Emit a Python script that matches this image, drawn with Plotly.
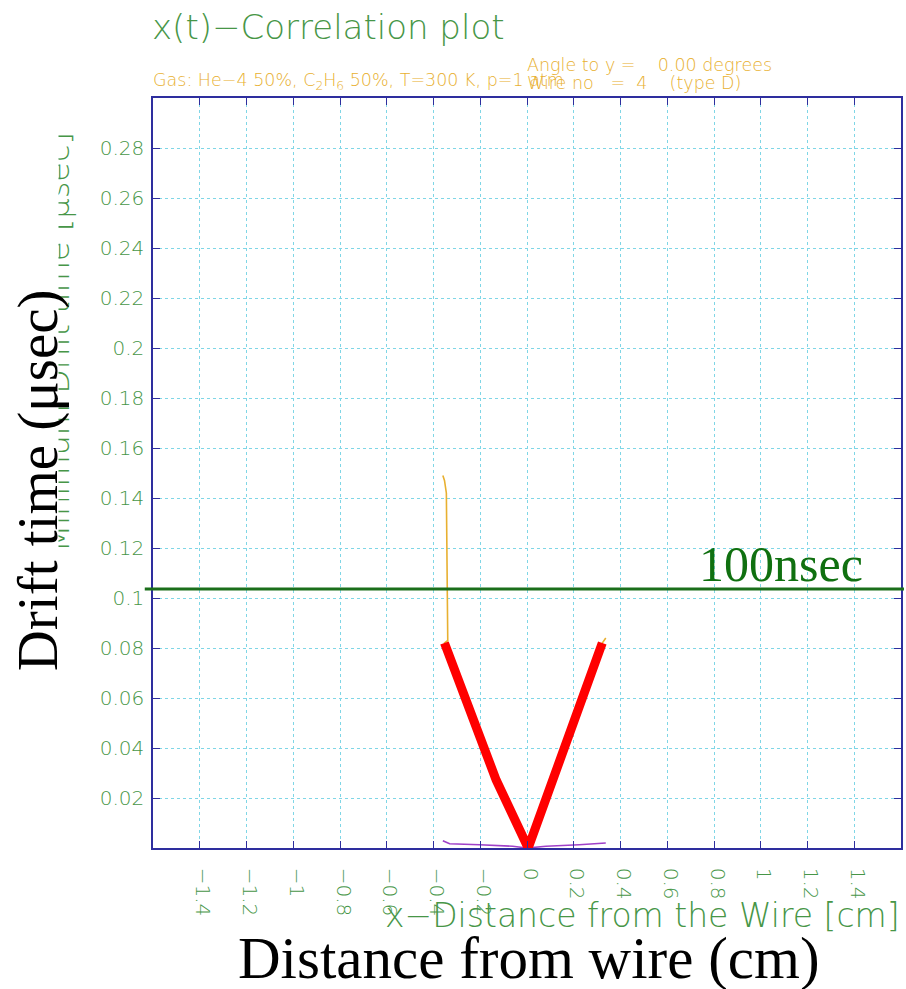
import plotly.graph_objects as go

# ---- data ----
x_ticks = [-1.4, -1.2, -1.0, -0.8, -0.6, -0.4, -0.2, 0.0, 0.2, 0.4, 0.6, 0.8, 1.0, 1.2, 1.4]
x_tick_labels = ["\u22121.4", "\u22121.2", "\u22121", "\u22120.8", "\u22120.6", "\u22120.4", "\u22120.2",
                 "0", "0.2", "0.4", "0.6", "0.8", "1", "1.2", "1.4"]
y_ticks = [0.02, 0.04, 0.06, 0.08, 0.1, 0.12, 0.14, 0.16, 0.18, 0.2, 0.22, 0.24, 0.26, 0.28]
y_tick_labels = ["0.02", "0.04", "0.06", "0.08", "0.1", "0.12", "0.14", "0.16", "0.18", "0.2",
                 "0.22", "0.24", "0.26", "0.28"]

# orange x(t) curve (Garfield output)
orange_x = [-0.36, -0.353, -0.345, -0.341, -0.339, -0.353, -0.203, -0.132, 0.005, 0.138, 0.223, 0.322, 0.337]
orange_t = [0.149, 0.147, 0.142, 0.102, 0.083, 0.082, 0.0446, 0.0272, 0.0, 0.0353, 0.0566, 0.082, 0.084]

# red highlighted V
red_x = [-0.353, -0.203, -0.132, 0.005, 0.138, 0.223, 0.322]
red_t = [0.082, 0.0446, 0.0272, 0.0, 0.0353, 0.0566, 0.082]

# purple curve near the axis
purple_x = [-0.36, -0.331, -0.203, -0.061, 0.0, 0.081, 0.223, 0.337]
purple_t = [0.0029, 0.0017, 0.0013, 0.0007, 0.0, 0.0007, 0.0013, 0.002]

threshold_t = 0.1036
threshold_label = "100nsec"

GREEN = "#479647"
ORANGE = "#e8b030"
FRAME = "#2e2e9e"
GRID = "#7fd6e6"
THIN = "DejaVu Sans"
W = 200

fig = go.Figure()
fig.add_trace(go.Scatter(x=orange_x, y=orange_t, mode="lines",
                         line=dict(color=ORANGE, width=1.6), cliponaxis=False, showlegend=False))
fig.add_trace(go.Scatter(x=purple_x, y=purple_t, mode="lines",
                         line=dict(color="#a040c8", width=1.6), cliponaxis=False, showlegend=False))
fig.add_trace(go.Scatter(x=red_x, y=red_t, mode="lines",
                         line=dict(color="#ff0000", width=9), cliponaxis=False, showlegend=False))

fig.add_shape(type="line", xref="paper", yref="y", x0=-0.011, x1=1.004,
              y0=threshold_t, y1=threshold_t, line=dict(color="#1a6e1a", width=3))

axis_common = dict(showline=True, linecolor=FRAME, linewidth=1.5, mirror="ticks",
                   ticks="inside", ticklen=7, tickcolor=FRAME, tickwidth=1.2,
                   showgrid=True, gridcolor=GRID, griddash="dot", gridwidth=1,
                   zeroline=False, tickfont=dict(family=THIN, size=20, color=GREEN, weight=W))

fig.update_xaxes(range=[-1.6, 1.6], tickmode="array", tickvals=x_ticks, ticktext=x_tick_labels,
                 tickangle=90, ticklabelstandoff=14, ticklabelshift=3, **axis_common)
fig.update_yaxes(range=[0, 0.3], tickmode="array", tickvals=y_ticks, ticktext=y_tick_labels,
                 ticklabelstandoff=3, **axis_common)

def px(x):
    return (x - 153) / 750.0

def py(y):
    return (848 - y) / 750.0

ann = [
    dict(text="x(t)\u2212Correlation plot", x=px(150), y=py(27), xanchor="left", yanchor="middle",
         font=dict(family=THIN, size=34, color=GREEN, weight=W)),
    dict(text="Gas: He\u22124 50%, C<sub>2</sub>H<sub>6</sub> 50%, T=300 K, p=1 atm", x=px(151), y=py(82),
         xanchor="left", yanchor="middle", font=dict(family=THIN, size=17.5, color=ORANGE, weight=W)),
    dict(text="Angle to y =    0.00 degrees", x=px(526), y=py(65), xanchor="left", yanchor="middle",
         font=dict(family=THIN, size=17.5, color=ORANGE, weight=W)),
    dict(text="Wire no   =  4    (type D)", x=px(526), y=py(83), xanchor="left", yanchor="middle",
         font=dict(family=THIN, size=17.5, color=ORANGE, weight=W)),
    dict(text="x\u2212Distance from the Wire [cm]", x=px(904), y=py(915), xanchor="right", yanchor="middle",
         font=dict(family=THIN, size=33, color=GREEN, weight=W)),
    dict(text="Minimum Drift time [\u03bcsec]", x=px(58), y=py(342), xanchor="center", yanchor="middle",
         textangle=-90, font=dict(family=THIN, size=32, color=GREEN, weight=W)),
    # white text box of the overlaid slide label, hiding part of the green title
    dict(text="&nbsp;", x=px(0), y=py(100), xanchor="left", yanchor="top", width=57, height=590,
         bgcolor="white", borderpad=0, font=dict(size=10, color="white")),
    dict(text="Drift time (\u03bcsec)", x=px(38), y=py(480), xanchor="center", yanchor="middle",
         textangle=-90, font=dict(family="Liberation Serif", size=57, color="black")),
    dict(text="Distance from wire (cm)", x=px(530), y=py(958), xanchor="center", yanchor="middle",
         font=dict(family="Liberation Serif", size=59, color="black")),
    dict(text=threshold_label, x=px(783), y=py(564), xanchor="center", yanchor="middle",
         font=dict(family="Liberation Serif", size=50, color="#107010")),
]
for a in ann:
    a.update(xref="paper", yref="paper", showarrow=False)

fig.update_layout(width=906, height=989, margin=dict(l=153, r=3, t=98, b=141),
                  paper_bgcolor="white", plot_bgcolor="white", annotations=ann, showlegend=False)

fig.write_html("out.html", config={"displayModeBar": False},
               post_script="document.documentElement.style.margin='0';document.body.style.margin='0';"
                           "document.body.style.overflow='hidden';")
